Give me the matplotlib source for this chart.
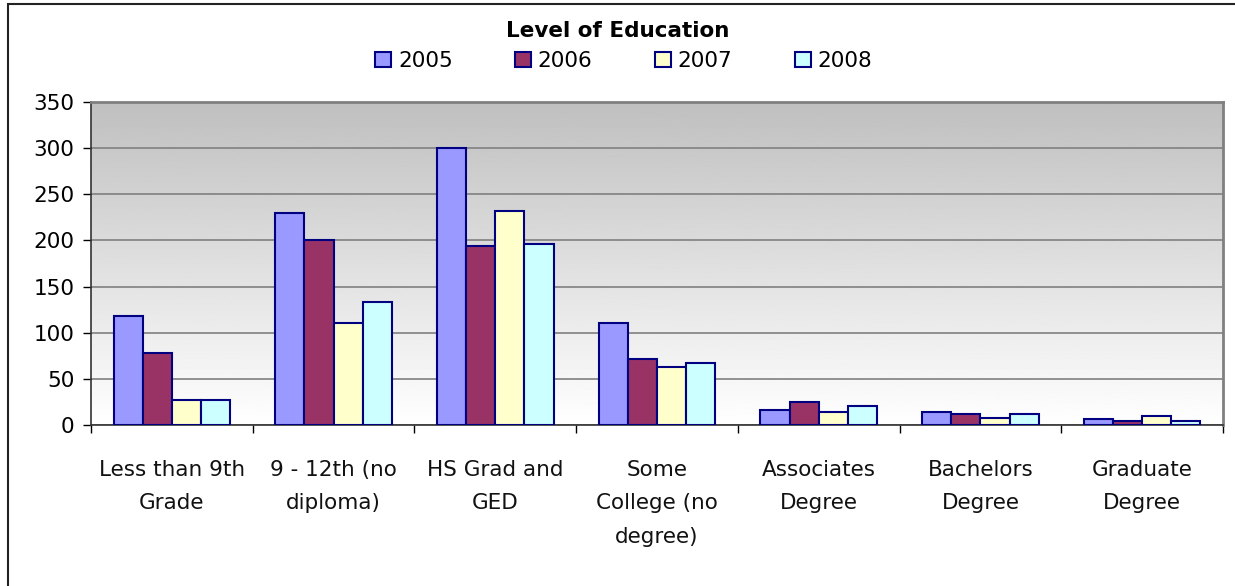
import numpy as np
import matplotlib
matplotlib.use("Agg")
import matplotlib.pyplot as plt
from matplotlib.patches import Rectangle

categories = ["Less than 9th\nGrade", "9 - 12th (no\ndiploma)", "HS Grad and\nGED",
              "Some\nCollege (no\ndegree)", "Associates\nDegree", "Bachelors\nDegree",
              "Graduate\nDegree"]
years = ["2005", "2006", "2007", "2008"]
v2005 = [118, 230, 300, 110, 16, 14, 6]
v2006 = [78, 200, 194, 72, 25, 12, 4]
v2007 = [27, 110, 232, 63, 14, 8, 10]
v2008 = [27, 133, 196, 67, 21, 12, 4]
series = [v2005, v2006, v2007, v2008]
colors = ["#9999FF", "#993366", "#FFFFCC", "#CCFFFF"]
yticks = [0, 50, 100, 150, 200, 250, 300, 350]

plt.rcParams['font.family'] = ['DejaVu Sans']

W, H = 1235, 586
fig = plt.figure(figsize=(W / 100, H / 100), dpi=100)

# outer chart border (right and bottom run off the picture)
fig.patches.append(Rectangle((8 / W, -0.2), 1.2, 1.2 - 4 / H, transform=fig.transFigure,
                             fill=False, edgecolor="#222222", linewidth=1.5))

ax = fig.add_axes([91 / W, 1 - 425 / H, (1223 - 91) / W, (425 - 102) / H])

# gradient background: gray at top, white at bottom
grad = np.linspace(1.0, 0.75, 256).reshape(-1, 1)
ax.imshow(grad, extent=[0, 1, 0, 1], origin="lower", transform=ax.transAxes,
          cmap="gray", vmin=0, vmax=1, aspect="auto", zorder=0)

n = len(categories)
bw = 0.18
x = np.arange(n)
for i, (vals, c, yr) in enumerate(zip(series, colors, years)):
    ax.bar(x + (i - 1.5) * bw, vals, bw, color=c, edgecolor="#000080",
           linewidth=1.5, label=yr, zorder=3)

ax.set_xlim(-0.5, n - 0.5)
ax.set_ylim(0, 350)
ax.set_yticks(yticks)
ax.yaxis.grid(True, color="#808080", linewidth=1.2, zorder=1)
ax.set_axisbelow(True)

ax.set_xticks(np.arange(n + 1) - 0.5)
ax.set_xticklabels([])
ax.set_xticks(x, minor=True)
ax.set_xticklabels(categories, minor=True, fontsize=15.5, linespacing=1.85,
                   color="#111111", va="top")
ax.tick_params(axis="x", which="minor", length=0, pad=25)
ax.tick_params(axis="x", which="major", length=6, direction="out", width=1)
ax.tick_params(axis="y", length=6, direction="out", labelsize=15.5, width=1, pad=6)

for s in ["left", "bottom"]:
    ax.spines[s].set_color("#333333")
    ax.spines[s].set_linewidth(1.2)
for s in ["top", "right"]:
    ax.spines[s].set_color("#808080")
    ax.spines[s].set_linewidth(2)

fig.text(0.5, 1 - 31 / H, "Level of Education", ha="center", va="center",
         fontsize=15.5, fontweight="bold")
fig.legend(loc="center", bbox_to_anchor=(0.505, 1 - 61 / H), ncol=4, frameon=False,
           fontsize=15.5, handlelength=0.75, handleheight=0.75, columnspacing=2.9,
           handletextpad=0.3)

fig.savefig("out.png", dpi=100)
